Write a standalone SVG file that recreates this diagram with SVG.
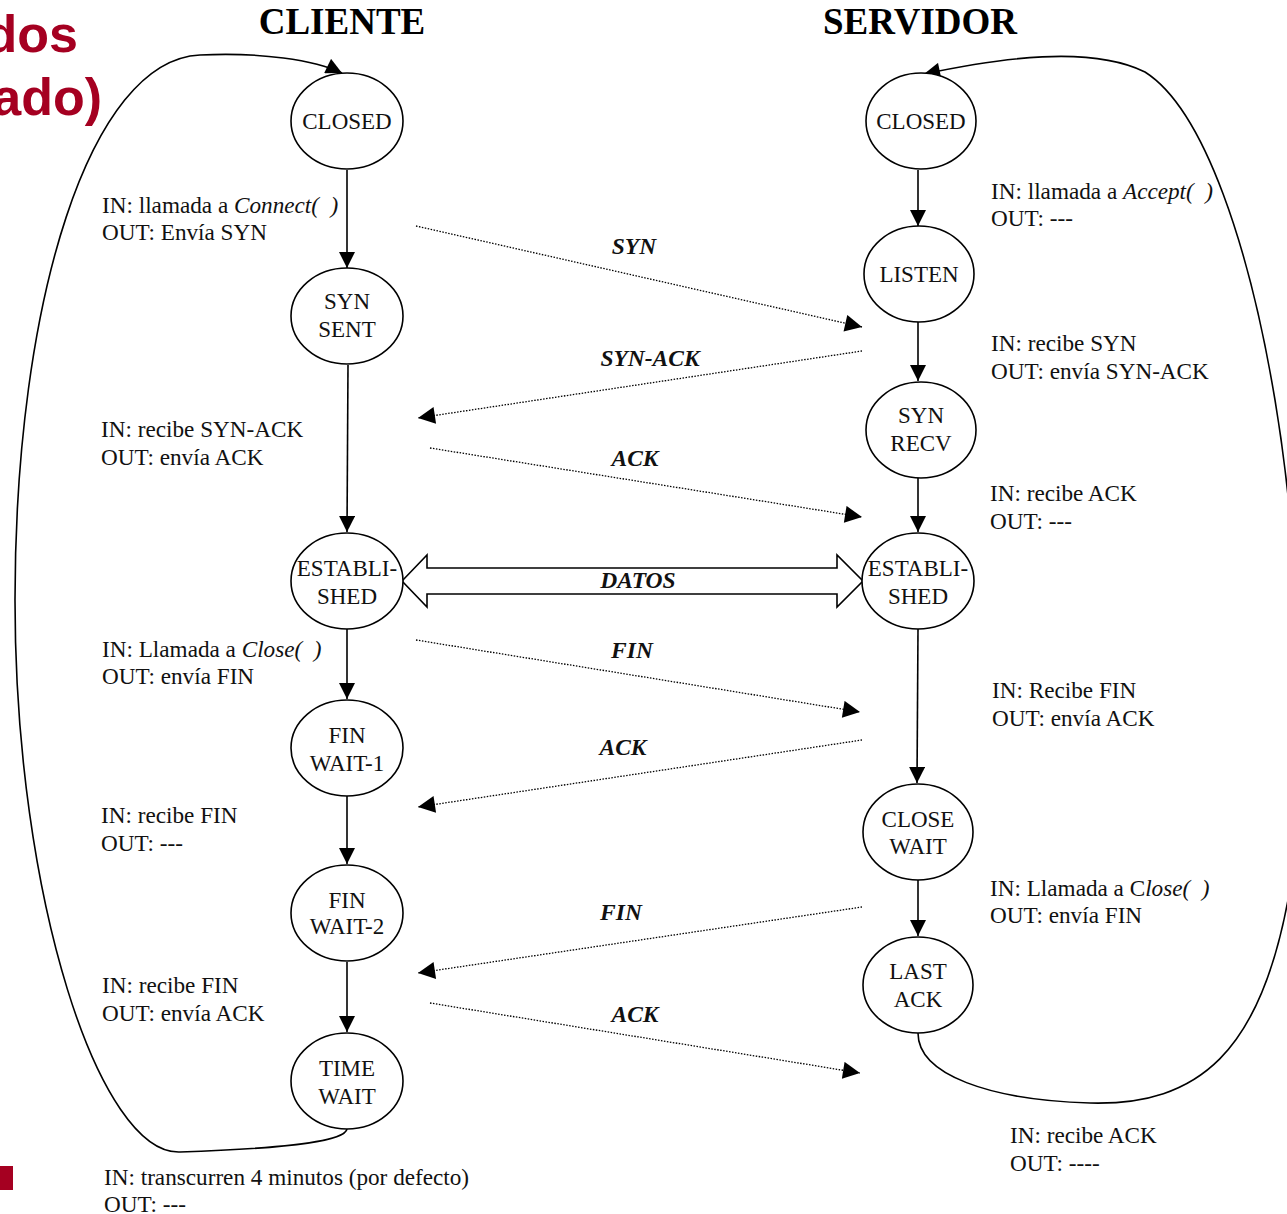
<svg xmlns="http://www.w3.org/2000/svg" width="1287" height="1214" viewBox="0 0 1287 1214">
  <style>
    .node ellipse { fill: #fff; stroke: #000; stroke-width: 1.6; }
    .ntxt { font-family: "Liberation Serif", "Times New Roman", serif; font-size: 23px; text-anchor: middle; fill: #111; }
    .lbl { font-family: "Liberation Serif", "Times New Roman", serif; font-size: 23.2px; fill: #111; }
    .it { font-style: italic; }
    .msg { font-family: "Liberation Serif", "Times New Roman", serif; font-size: 23.5px; font-weight: bold; font-style: italic; text-anchor: middle; fill: #111; }
    .title { font-family: "Liberation Serif", "Times New Roman", serif; font-size: 37px; font-weight: bold; text-anchor: middle; fill: #000; }
    .red { font-family: "Liberation Sans", Arial, sans-serif; font-size: 52px; font-weight: bold; fill: #a50021; text-anchor: end; }
    .solid { fill: none; stroke: #000; stroke-width: 1.6; }
    .dot { fill: none; stroke: #000; stroke-width: 1.3; stroke-dasharray: 1.5 1.5; }
  </style>
  <defs>
    <marker id="ah" viewBox="0 0 10 10" refX="10" refY="5" markerWidth="17" markerHeight="16" markerUnits="userSpaceOnUse" orient="auto">
      <path d="M0,0 L10,5 L0,10 z" fill="#000"/>
    </marker>
    <marker id="ahd" viewBox="0 0 10 10" refX="10" refY="5" markerWidth="22" markerHeight="17" markerUnits="userSpaceOnUse" orient="auto">
      <path d="M0,0 L10,5 L0,10 z" fill="#000"/>
    </marker>
  </defs>

  <rect width="1287" height="1214" fill="#fff"/>

  <!-- slide title fragments and page decorations -->
  <text class="red" x="78" y="52">dos</text>
  <text class="red" x="102" y="115">ado)</text>
  <rect x="0" y="1166" width="13" height="24" fill="#a50021"/>
  <text x="-4" y="1229" font-family="Liberation Sans, Arial, sans-serif" font-size="22" font-weight="bold" fill="#1f4e9a">6</text>

  <!-- column headings -->
  <text class="title" x="342" y="34">CLIENTE</text>
  <text class="title" x="920" y="34">SERVIDOR</text>

  <!-- connectors -->
  <g id="connectors">
    <!-- client transitions -->
    <line class="solid" x1="347" y1="170" x2="347" y2="268" marker-end="url(#ah)"/>
    <line class="solid" x1="348" y1="365" x2="347" y2="532" marker-end="url(#ah)"/>
    <line class="solid" x1="347" y1="629" x2="347" y2="699" marker-end="url(#ah)"/>
    <line class="solid" x1="347" y1="796" x2="347" y2="864" marker-end="url(#ah)"/>
    <line class="solid" x1="347" y1="962" x2="347" y2="1032" marker-end="url(#ah)"/>
    <!-- TIME WAIT back to CLOSED -->
    <path class="solid" d="M347,1129 C345,1140 300,1148 180,1152 C100,1155 15,900 15,600 C15,300 90,60 200,55 C260,52 315,60 342,73" marker-end="url(#ah)"/>

    <!-- server transitions -->
    <line class="solid" x1="918" y1="170" x2="918" y2="226" marker-end="url(#ah)"/>
    <line class="solid" x1="918" y1="322" x2="918" y2="381" marker-end="url(#ah)"/>
    <line class="solid" x1="918" y1="478" x2="918" y2="532" marker-end="url(#ah)"/>
    <line class="solid" x1="918" y1="629" x2="917" y2="783" marker-end="url(#ah)"/>
    <line class="solid" x1="918" y1="880" x2="918" y2="936" marker-end="url(#ah)"/>
    <!-- LAST ACK back to CLOSED -->
    <path class="solid" d="M918,1033 C918,1075 990,1100 1090,1103 C1200,1106 1260,1050 1288,900 C1308,750 1300,550 1275,400 C1250,250 1205,110 1145,72 C1090,45 1000,58 924,74" marker-end="url(#ah)"/>

    <!-- segments exchanged -->
    <line class="dot" x1="416" y1="226" x2="862" y2="327" marker-end="url(#ahd)"/>
    <line class="dot" x1="862" y1="351" x2="418" y2="418" marker-end="url(#ahd)"/>
    <line class="dot" x1="430" y1="448" x2="862" y2="517" marker-end="url(#ahd)"/>
    <line class="dot" x1="416" y1="640" x2="860" y2="712" marker-end="url(#ahd)"/>
    <line class="dot" x1="862" y1="740" x2="418" y2="807" marker-end="url(#ahd)"/>
    <line class="dot" x1="862" y1="907" x2="418" y2="973" marker-end="url(#ahd)"/>
    <line class="dot" x1="430" y1="1003" x2="860" y2="1073" marker-end="url(#ahd)"/>

    <!-- data transfer -->
    <polygon points="402,581 427,555 427,568 837,568 837,555 863,581 837,607 837,594 427,594 427,607" fill="#fff" stroke="#000" stroke-width="1.6"/>

    <text class="msg" x="634" y="254">SYN</text>
    <text class="msg" x="650" y="366">SYN-ACK</text>
    <text class="msg" x="635" y="466">ACK</text>
    <text class="msg" x="638" y="588">DATOS</text>
    <text class="msg" x="632" y="658">FIN</text>
    <text class="msg" x="623" y="755">ACK</text>
    <text class="msg" x="621" y="920">FIN</text>
    <text class="msg" x="635" y="1022">ACK</text>
  </g>

  <!-- client states -->
  <g id="c-closed" class="node"><ellipse cx="347" cy="121" rx="56" ry="48"/><text class="ntxt" x="347" y="129">CLOSED</text></g>
  <g id="c-synsent" class="node"><ellipse cx="347" cy="316" rx="56" ry="48"/><text class="ntxt" x="347" y="309">SYN</text><text class="ntxt" x="347" y="337">SENT</text></g>
  <g id="c-established" class="node"><ellipse cx="347" cy="581" rx="56" ry="48"/><text class="ntxt" x="347" y="576">ESTABLI-</text><text class="ntxt" x="347" y="604">SHED</text></g>
  <g id="c-finwait1" class="node"><ellipse cx="347" cy="748" rx="56" ry="48"/><text class="ntxt" x="347" y="743">FIN</text><text class="ntxt" x="347" y="771">WAIT-1</text></g>
  <g id="c-finwait2" class="node"><ellipse cx="347" cy="913" rx="56" ry="48"/><text class="ntxt" x="347" y="908">FIN</text><text class="ntxt" x="347" y="934">WAIT-2</text></g>
  <g id="c-timewait" class="node"><ellipse cx="347" cy="1081" rx="56" ry="48"/><text class="ntxt" x="347" y="1076">TIME</text><text class="ntxt" x="347" y="1104">WAIT</text></g>

  <!-- server states -->
  <g id="s-closed" class="node"><ellipse cx="921" cy="121" rx="55" ry="48"/><text class="ntxt" x="921" y="129">CLOSED</text></g>
  <g id="s-listen" class="node"><ellipse cx="919" cy="274" rx="55" ry="48"/><text class="ntxt" x="919" y="282">LISTEN</text></g>
  <g id="s-synrecv" class="node"><ellipse cx="921" cy="430" rx="55" ry="48"/><text class="ntxt" x="921" y="423">SYN</text><text class="ntxt" x="921" y="451">RECV</text></g>
  <g id="s-established" class="node"><ellipse cx="918" cy="581" rx="56" ry="48"/><text class="ntxt" x="918" y="576">ESTABLI-</text><text class="ntxt" x="918" y="604">SHED</text></g>
  <g id="s-closewait" class="node"><ellipse cx="918" cy="832" rx="55" ry="48"/><text class="ntxt" x="918" y="827">CLOSE</text><text class="ntxt" x="918" y="854">WAIT</text></g>
  <g id="s-lastack" class="node"><ellipse cx="918" cy="985" rx="55" ry="48"/><text class="ntxt" x="918" y="979">LAST</text><text class="ntxt" x="918" y="1007">ACK</text></g>

  <!-- client event labels -->
  <g id="c-labels" class="lbl">
    <text x="102" y="213">IN: llamada a <tspan class="it">Connect( &#160;)</tspan></text>
    <text x="102" y="240">OUT: Envía SYN</text>
    <text x="101" y="437">IN: recibe SYN-ACK</text>
    <text x="101" y="465">OUT: envía ACK</text>
    <text x="102" y="657">IN: Llamada a <tspan class="it">Close( &#160;)</tspan></text>
    <text x="102" y="684">OUT: envía FIN</text>
    <text x="101" y="823">IN: recibe FIN</text>
    <text x="101" y="851">OUT: ---</text>
    <text x="102" y="993">IN: recibe FIN</text>
    <text x="102" y="1021">OUT: envía ACK</text>
    <text x="104" y="1185">IN: transcurren 4 minutos (por defecto)</text>
    <text x="104" y="1212">OUT: ---</text>
  </g>

  <!-- server event labels -->
  <g id="s-labels" class="lbl">
    <text x="991" y="199">IN: llamada a <tspan class="it">Accept( &#160;)</tspan></text>
    <text x="991" y="226">OUT: ---</text>
    <text x="991" y="351">IN: recibe SYN</text>
    <text x="991" y="379">OUT: envía SYN-ACK</text>
    <text x="990" y="501">IN: recibe ACK</text>
    <text x="990" y="529">OUT: ---</text>
    <text x="992" y="698">IN: Recibe FIN</text>
    <text x="992" y="726">OUT: envía ACK</text>
    <text x="990" y="896">IN: Llamada a C<tspan class="it">lose( &#160;)</tspan></text>
    <text x="990" y="923">OUT: envía FIN</text>
    <text x="1010" y="1143">IN: recibe ACK</text>
    <text x="1010" y="1171">OUT: ----</text>
  </g>
</svg>
